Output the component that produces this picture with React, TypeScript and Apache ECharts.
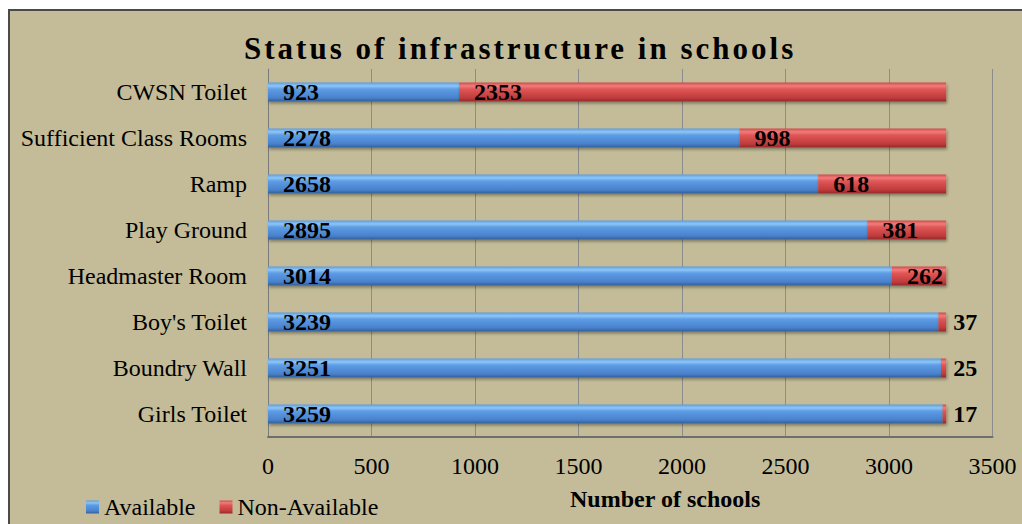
import React, { useEffect, useRef } from "react";
import * as echarts from "echarts";

const TITLE = "Status of infrastructure in schools";
const categories = [
  "Girls Toilet",
  "Boundry Wall",
  "Boy's Toilet",
  "Headmaster Room",
  "Play Ground",
  "Ramp",
  "Sufficient Class Rooms",
  "CWSN Toilet",
];
const available = [3259, 3251, 3239, 3014, 2895, 2658, 2278, 923];
const nonAvailable = [17, 25, 37, 262, 381, 618, 998, 2353];
const xTicks = { min: 0, max: 3500, interval: 500 };
const xAxisName = "Number of schools";

const FONT = "'Liberation Serif', 'Times New Roman', serif";

export default function App() {
  const ref = useRef<HTMLDivElement>(null);
  useEffect(() => {
    const el = ref.current!;
    const chart = echarts.init(el, null, { renderer: "svg" });
    const blue = new echarts.graphic.LinearGradient(0, 0, 0, 1, [
      { offset: 0, color: "#5b9be0" },
      { offset: 0.18, color: "#8ec6f6" },
      { offset: 0.35, color: "#5d9ce6" },
      { offset: 0.8, color: "#4a82cc" },
      { offset: 1, color: "#335e98" },
    ]);
    const red = new echarts.graphic.LinearGradient(0, 0, 0, 1, [
      { offset: 0, color: "#d24a4a" },
      { offset: 0.18, color: "#f27c7c" },
      { offset: 0.35, color: "#e05656" },
      { offset: 0.8, color: "#c03c3c" },
      { offset: 1, color: "#972828" },
    ]);
    const shadow = {
      shadowColor: "rgba(0,0,0,0.35)",
      shadowBlur: 3,
      shadowOffsetX: 1,
      shadowOffsetY: 2,
    };
    const labelBase = {
      show: true,
      color: "#000",
      fontFamily: FONT,
      fontWeight: "bold" as const,
      fontSize: 24,
    };
    chart.setOption({
      animation: false,
      backgroundColor: "#ffffff",
      textStyle: { fontFamily: FONT },
      title: {
        text: TITLE,
        left: 244,
        top: 33,
        padding: 0,
        textStyle: {
          fontFamily: FONT,
          fontSize: 31,
          fontWeight: "bold",
          color: "#000",
        },
      },
      graphic: {
        elements: [
          {
            type: "rect",
            z: -100,
            silent: true,
            shape: { x: 9, y: 10, width: 1040, height: 540 },
            style: { fill: "#c4bc98", stroke: "#4a4a4a", lineWidth: 2 },
          },
          {
            type: "text",
            left: 570,
            top: 487,
            style: {
              text: xAxisName,
              font: `bold 24px ${FONT}`,
              fill: "#000",
            },
          },
        ],
      },
      legend: {
        left: 86,
        top: 495,
        padding: 0,
        itemWidth: 13,
        itemHeight: 13,
        itemGap: 24,
        icon: "rect",
        textStyle: { fontFamily: FONT, fontSize: 24, color: "#000" },
        data: ["Available", "Non-Available"],
      },
      grid: { left: 268, right: 29.5, top: 69, bottom: 87 },
      xAxis: {
        type: "value",
        min: xTicks.min,
        max: xTicks.max,
        interval: xTicks.interval,
        axisLine: { show: true, lineStyle: { color: "#6e6e6e", width: 2 } },
        axisTick: { show: false },
        splitLine: { show: true, lineStyle: { color: "#8c8c8c", width: 1 } },
        axisLabel: {
          margin: 17,
          fontFamily: FONT,
          fontSize: 24,
          color: "#000",
          formatter: (v: number) => String(v),
        },
      },
      yAxis: {
        type: "category",
        data: categories,
        axisLine: { show: true, lineStyle: { color: "#7a7a7a", width: 1 } },
        axisTick: { show: false },
        axisLabel: {
          margin: 21,
          fontFamily: FONT,
          fontSize: 24,
          color: "#000",
        },
      },
      series: [
        {
          name: "Available",
          type: "bar",
          stack: "total",
          barWidth: 19,
          data: available,
          itemStyle: { color: blue, ...shadow },
          label: {
            ...labelBase,
            position: "insideLeft",
            distance: 15,
            formatter: (p: any) => String(p.value),
          },
        },
        {
          name: "Non-Available",
          type: "bar",
          stack: "total",
          barWidth: 19,
          data: nonAvailable.map((v) =>
            v < 100
              ? { value: v, label: { position: "right", distance: 7 } }
              : { value: v }
          ),
          itemStyle: { color: red, ...shadow },
          label: {
            ...labelBase,
            position: "insideLeft",
            distance: 15,
            formatter: (p: any) => String(p.value),
          },
        },
      ],
    });
    const applySpacing = () => {
      el.querySelectorAll("text").forEach((t) => {
        if (t.textContent === TITLE) t.setAttribute("letter-spacing", "3");
      });
    };
    chart.on("finished", applySpacing);
    applySpacing();
    const timer = setTimeout(applySpacing, 50);
    return () => {
      clearTimeout(timer);
      chart.dispose();
    };
  }, []);
  return (
    <div
      ref={ref}
      style={{ position: "fixed", left: 0, top: 0, width: 1022, height: 524 }}
    />
  );
}
